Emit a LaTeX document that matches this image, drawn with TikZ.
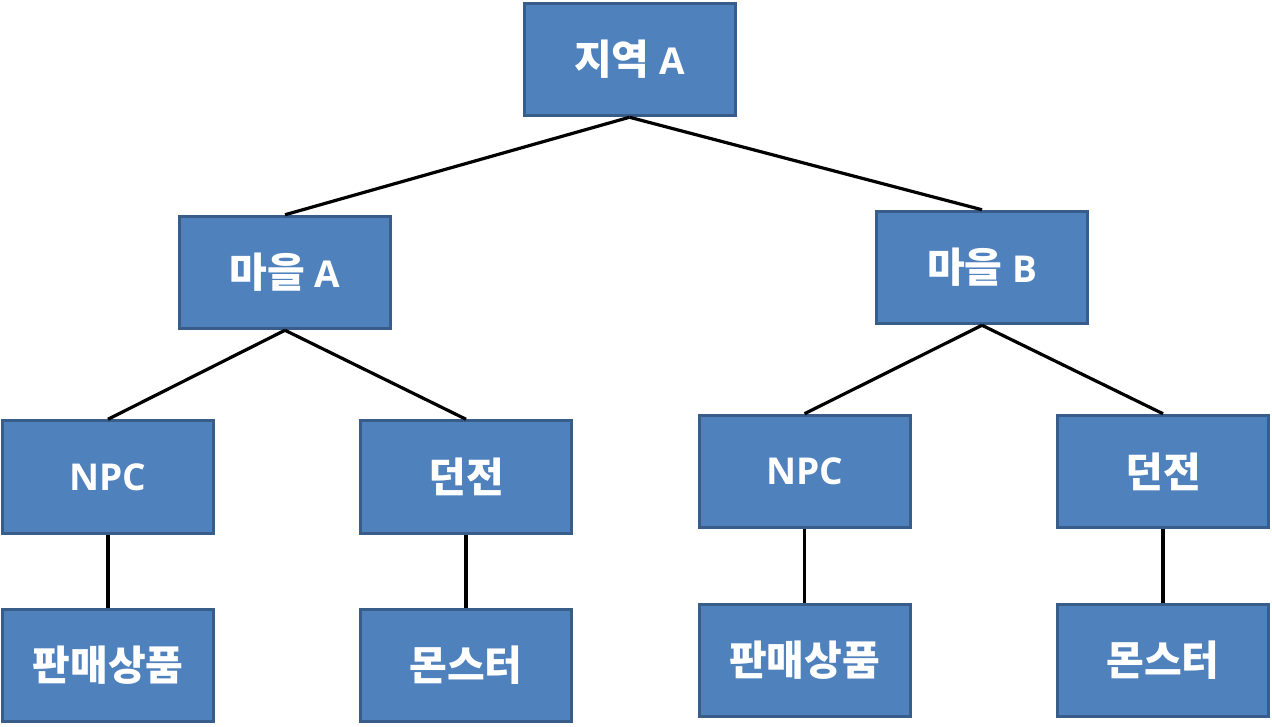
\documentclass[tikz,border=0pt]{standalone}
\usepackage{fontspec}
\setmainfont{Open Sans}
\newfontfamily\kofont{Noto Sans CJK KR}
\newcommand{\ko}[1]{{\kofont\fontsize{41}{46}\selectfont #1}}
\usetikzlibrary{positioning}
\definecolor{boxfill}{HTML}{4F81BD}
\definecolor{boxline}{HTML}{385D8A}
\tikzstyle{kbox}=[rectangle, draw=boxline, fill=boxfill, line width=3pt,
                  minimum width=211pt, minimum height=112.5pt, inner sep=2pt,
                  text=white, font=\bfseries\fontsize{37}{42}\selectfont]
\tikzstyle{tline}=[-, line width=3.2pt, black]
\begin{document}
\begin{tikzpicture}[node distance=0mm]
\useasboundingbox (0,0) rectangle (1272pt,-726pt);

\node (REGION) [kbox] at (629.5pt,-59.5pt) {\ko{지역} A};

\node (VILLA) [kbox,below left=97.5pt and 130.5pt of REGION] {\ko{마을} A};
\node (VILLB) [kbox,below right=92.5pt and 138.5pt of REGION] {\ko{마을} B};
 \draw[tline] (REGION.south) -- (VILLA.north);
 \draw[tline] (REGION.south) -- (VILLB.north);

\node (NPCA) [kbox,below left=89pt and -37pt of VILLA] {NPC};
\node (DUNA) [kbox,right=144pt of NPCA] {\ko{던전}};
 \draw[tline] (VILLA.south) -- (NPCA.north);
 \draw[tline] (VILLA.south) -- (DUNA.north);
\node (SHOPA) [kbox,below=73pt of NPCA] {\ko{판매상품}};
 \draw[tline] (NPCA.south) -- (SHOPA.north);
\node (MONA) [kbox,below=73pt of DUNA] {\ko{몬스터}};
 \draw[tline] (DUNA.south) -- (MONA.north);

\node (NPCB) [kbox,below left=88.5pt and -36.5pt of VILLB] {NPC};
\node (DUNB) [kbox,right=144.5pt of NPCB] {\ko{던전}};
 \draw[tline] (VILLB.south) -- (NPCB.north);
 \draw[tline] (VILLB.south) -- (DUNB.north);
\node (SHOPB) [kbox,below=73.5pt of NPCB] {\ko{판매상품}};
 \draw[tline] (NPCB.south) -- (SHOPB.north);
\node (MONB) [kbox,below=73.5pt of DUNB] {\ko{몬스터}};
 \draw[tline] (DUNB.south) -- (MONB.north);

\end{tikzpicture}
\end{document}
